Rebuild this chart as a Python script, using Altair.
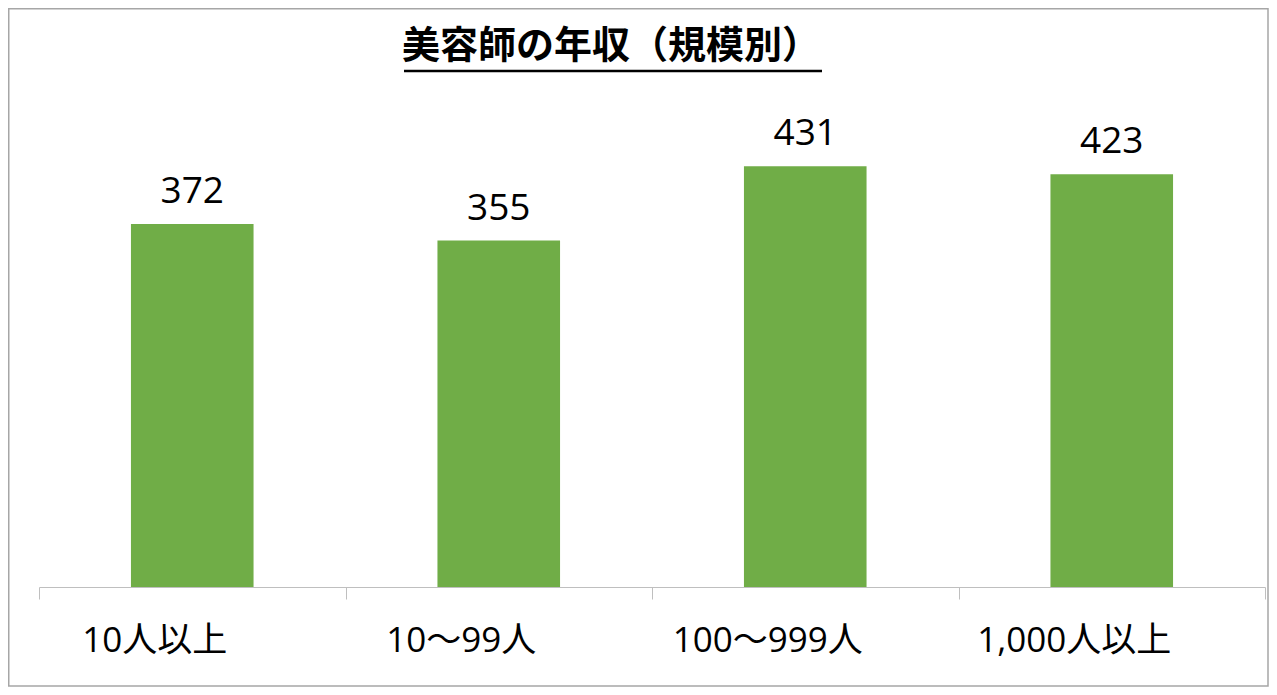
import altair as alt
import pandas as pd

categories = ["10人以上", "10～99人", "100～999人", "1,000人以上"]
values = [372, 355, 431, 423]
title_text = "美容師の年収（規模別）"

df = pd.DataFrame({"cat": categories, "val": values})

W, H = 1226, 488
PAD_L, PAD_T, PAD_R, PAD_B = 31, 91, 4, 100

xenc = alt.X(
    "cat:N",
    sort=categories,
    title=None,
    scale=alt.Scale(paddingInner=0, paddingOuter=0),
    axis=alt.Axis(
        labelAngle=0,
        labelFont="Open Sans, Noto Sans CJK JP",
        labelFontSize=35,
        labelColor="black",
        labelPadding=24,
        labelOffset=-38,
        labelLimit=400,
        tickBand="extent",
        tickSize=12,
        tickColor="#BFBFBF",
        domainColor="#BFBFBF",
        grid=False,
    ),
)
yenc = alt.Y("val:Q", scale=alt.Scale(domain=[0, 500]), axis=None)

bars = alt.Chart(df).mark_bar(color="#70AD47", width=alt.RelativeBandSize(0.4)).encode(x=xenc, y=yenc)
labels = alt.Chart(df).mark_text(
    font="Open Sans", fontSize=37, dy=-21, baseline="alphabetic", color="black"
).encode(x=xenc, y=yenc, text="val:Q")

tdf = pd.DataFrame({"t": [title_text]})
title = alt.Chart(tdf).mark_text(
    font="Noto Sans CJK JP", fontWeight="bold", fontSize=38,
    baseline="middle", align="center", color="black"
).encode(text="t:N", x=alt.value(572), y=alt.value(-52))

underline = alt.Chart(tdf).mark_rule(color="black", strokeWidth=2.5).encode(
    x=alt.value(365), x2=alt.value(783), y=alt.value(-28)
)

border = alt.Chart(tdf).mark_rect(
    fill="white", fillOpacity=0, stroke="#A6A6A6", strokeWidth=1.5
).encode(
    x=alt.value(-30.25), x2=alt.value(W + PAD_R - 1), y=alt.value(-PAD_T + 0.75), y2=alt.value(H + PAD_B - 1)
)

chart = alt.layer(border, bars, labels, title, underline).properties(
    width=W, height=H,
    padding={"left": PAD_L, "top": PAD_T, "right": PAD_R, "bottom": PAD_B},
    autosize=alt.AutoSizeParams(type="none"),
).configure(background="white").configure_view(stroke=None, strokeWidth=0)

chart.save("out.html", embed_options={"renderer": "svg", "actions": False})
